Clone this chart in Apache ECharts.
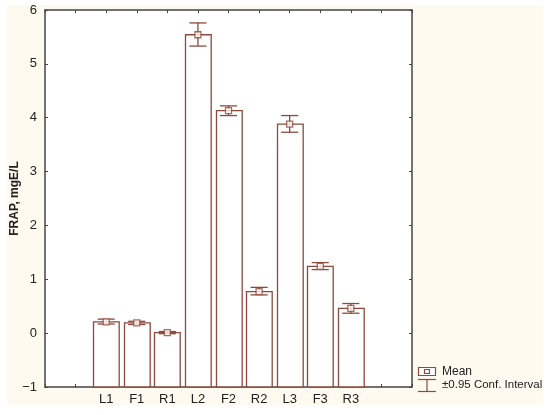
<!DOCTYPE html>
<html>
<head>
<meta charset="utf-8">
<script src="https://cdn.jsdelivr.net/npm/echarts@6/dist/echarts.min.js"></script>
<style>
  html, body { margin: 0; padding: 0; background: #fff; }
  #chart { width: 550px; height: 415px; }
</style>
</head>
<body>
<div id="chart"></div>
<script>
// tick slots on the x axis (0..12), samples sit on slots 2..10
const slotLabels = ['', '', 'L1', 'F1', 'R1', 'L2', 'F2', 'R2', 'L3', 'F3', 'R3', '', ''];
const samples = ['L1', 'F1', 'R1', 'L2', 'F2', 'R2', 'L3', 'F3', 'R3'];
const means = [0.21, 0.19, 0.01, 5.54, 4.13, 0.77, 3.88, 1.24, 0.46];
const ciLow = [0.17, 0.16, -0.01, 5.33, 4.04, 0.71, 3.73, 1.18, 0.37];
const ciHigh = [0.26, 0.22, 0.03, 5.76, 4.22, 0.85, 4.04, 1.31, 0.55];
const yTicks = [-1, 0, 1, 2, 3, 4, 5, 6];

const barColor = '#8d4a3c';
const frameColor = '#444';
const font = 'Liberation Sans, Arial, sans-serif';

const chart = echarts.init(document.getElementById('chart'));

// x position of each sample = its slot index
const xPos = samples.map(s => slotLabels.indexOf(s));
const barData = samples.map((s, i) => [xPos[i], means[i]]);
const errData = samples.map((s, i) => [xPos[i], ciLow[i], ciHigh[i]]);
const meanData = samples.map((s, i) => [xPos[i], means[i]]);

const tickStyle = { show: true, inside: true, length: 3, lineStyle: { color: frameColor, width: 1 } };
const lineStyle = { show: true, onZero: false, lineStyle: { color: frameColor, width: 1.5 } };

const option = {
  backgroundColor: '#fff',
  animation: false,
  grid: {
    left: 45, top: 10, right: 138, bottom: 28,
    outerBoundsMode: 'none', containLabel: false,
    show: true, backgroundColor: '#fff', borderWidth: 0
  },
  graphic: [
    { type: 'rect', z: -10, silent: true, shape: { x: 7, y: 5, width: 536, height: 400 }, style: { fill: '#fefaf0' } },
    // legend: mean
    { type: 'rect', shape: { x: 418.5, y: 367.5, width: 17, height: 8 }, style: { fill: '#fff', stroke: barColor, lineWidth: 1.2 } },
    { type: 'rect', shape: { x: 424.5, y: 369.5, width: 5, height: 4 }, style: { fill: '#fff', stroke: barColor, lineWidth: 1.2 } },
    { type: 'text', x: 442, y: 372, style: { text: 'Mean', fill: '#222', font: '12px ' + font, textVerticalAlign: 'middle' } },
    // legend: interval
    { type: 'line', shape: { x1: 418, y1: 379.5, x2: 436, y2: 379.5 }, style: { stroke: barColor, lineWidth: 1.2 } },
    { type: 'line', shape: { x1: 427, y1: 379.5, x2: 427, y2: 391.5 }, style: { stroke: barColor, lineWidth: 1.2 } },
    { type: 'line', shape: { x1: 418, y1: 391.5, x2: 436, y2: 391.5 }, style: { stroke: barColor, lineWidth: 1.2 } },
    { type: 'text', x: 442, y: 385, style: { text: '\u00b10.95 Conf. Interval', fill: '#222', font: '11.5px ' + font, textVerticalAlign: 'middle' } }
  ],
  xAxis: [
    {
      type: 'value', min: 0, max: 12, interval: 1,
      axisLine: lineStyle, axisTick: tickStyle, splitLine: { show: false },
      axisLabel: {
        margin: 6, color: '#222', fontSize: 13, fontFamily: font,
        formatter: v => slotLabels[v] || ''
      }
    },
    {
      type: 'value', position: 'top', min: 0, max: 12, interval: 1,
      axisLine: lineStyle, axisTick: tickStyle, splitLine: { show: false },
      axisLabel: { show: false }
    }
  ],
  yAxis: [
    {
      type: 'value', min: -1, max: 6, interval: 1,
      name: 'FRAP, mgE/L', nameLocation: 'middle', nameGap: 24, nameMoveOverlap: false,
      nameTextStyle: { fontWeight: 'bold', fontSize: 12, fontFamily: font, color: '#222' },
      axisLine: lineStyle, axisTick: tickStyle, splitLine: { show: false },
      axisLabel: {
        margin: 8, color: '#222', fontSize: 13, fontFamily: font,
        formatter: v => yTicks.includes(v) ? String(v).replace('-', '\u2212') : ''
      }
    },
    {
      type: 'value', position: 'right', min: -1, max: 6, interval: 1,
      axisLine: lineStyle, axisTick: tickStyle, splitLine: { show: false },
      axisLabel: { show: false }
    }
  ],
  series: [
    {
      name: 'bars', type: 'custom', data: barData,
      renderItem: (params, api) => {
        const x = api.value(0);
        const top = api.coord([x, api.value(1)]);
        const base = api.coord([x, -1]);
        const w = api.size([1, 0])[0] * 0.84;
        return {
          type: 'rect',
          shape: { x: Math.round(top[0] - w / 2) + 0.5, y: top[1], width: w, height: base[1] - top[1] },
          style: { fill: '#fff', stroke: barColor, lineWidth: 1.3 }
        };
      }
    },
    {
      name: '\u00b10.95 Conf. Interval', type: 'custom', data: errData, z: 3,
      renderItem: (params, api) => {
        const x = api.value(0);
        const lo = api.coord([x, api.value(1)]);
        const hi = api.coord([x, api.value(2)]);
        const half = api.size([1, 0])[0] * 0.28;
        const st = { stroke: barColor, lineWidth: 1.3 };
        return {
          type: 'group',
          children: [
            { type: 'line', shape: { x1: hi[0] - half, y1: hi[1], x2: hi[0] + half, y2: hi[1] }, style: st },
            { type: 'line', shape: { x1: hi[0], y1: hi[1], x2: lo[0], y2: lo[1] }, style: st },
            { type: 'line', shape: { x1: lo[0] - half, y1: lo[1], x2: lo[0] + half, y2: lo[1] }, style: st }
          ]
        };
      }
    },
    {
      name: 'Mean', type: 'scatter', data: meanData, z: 4,
      symbol: 'rect', symbolSize: 6,
      itemStyle: { color: '#fff', borderColor: barColor, borderWidth: 1.3 }
    }
  ]
};

chart.setOption(option);
</script>
</body>
</html>
